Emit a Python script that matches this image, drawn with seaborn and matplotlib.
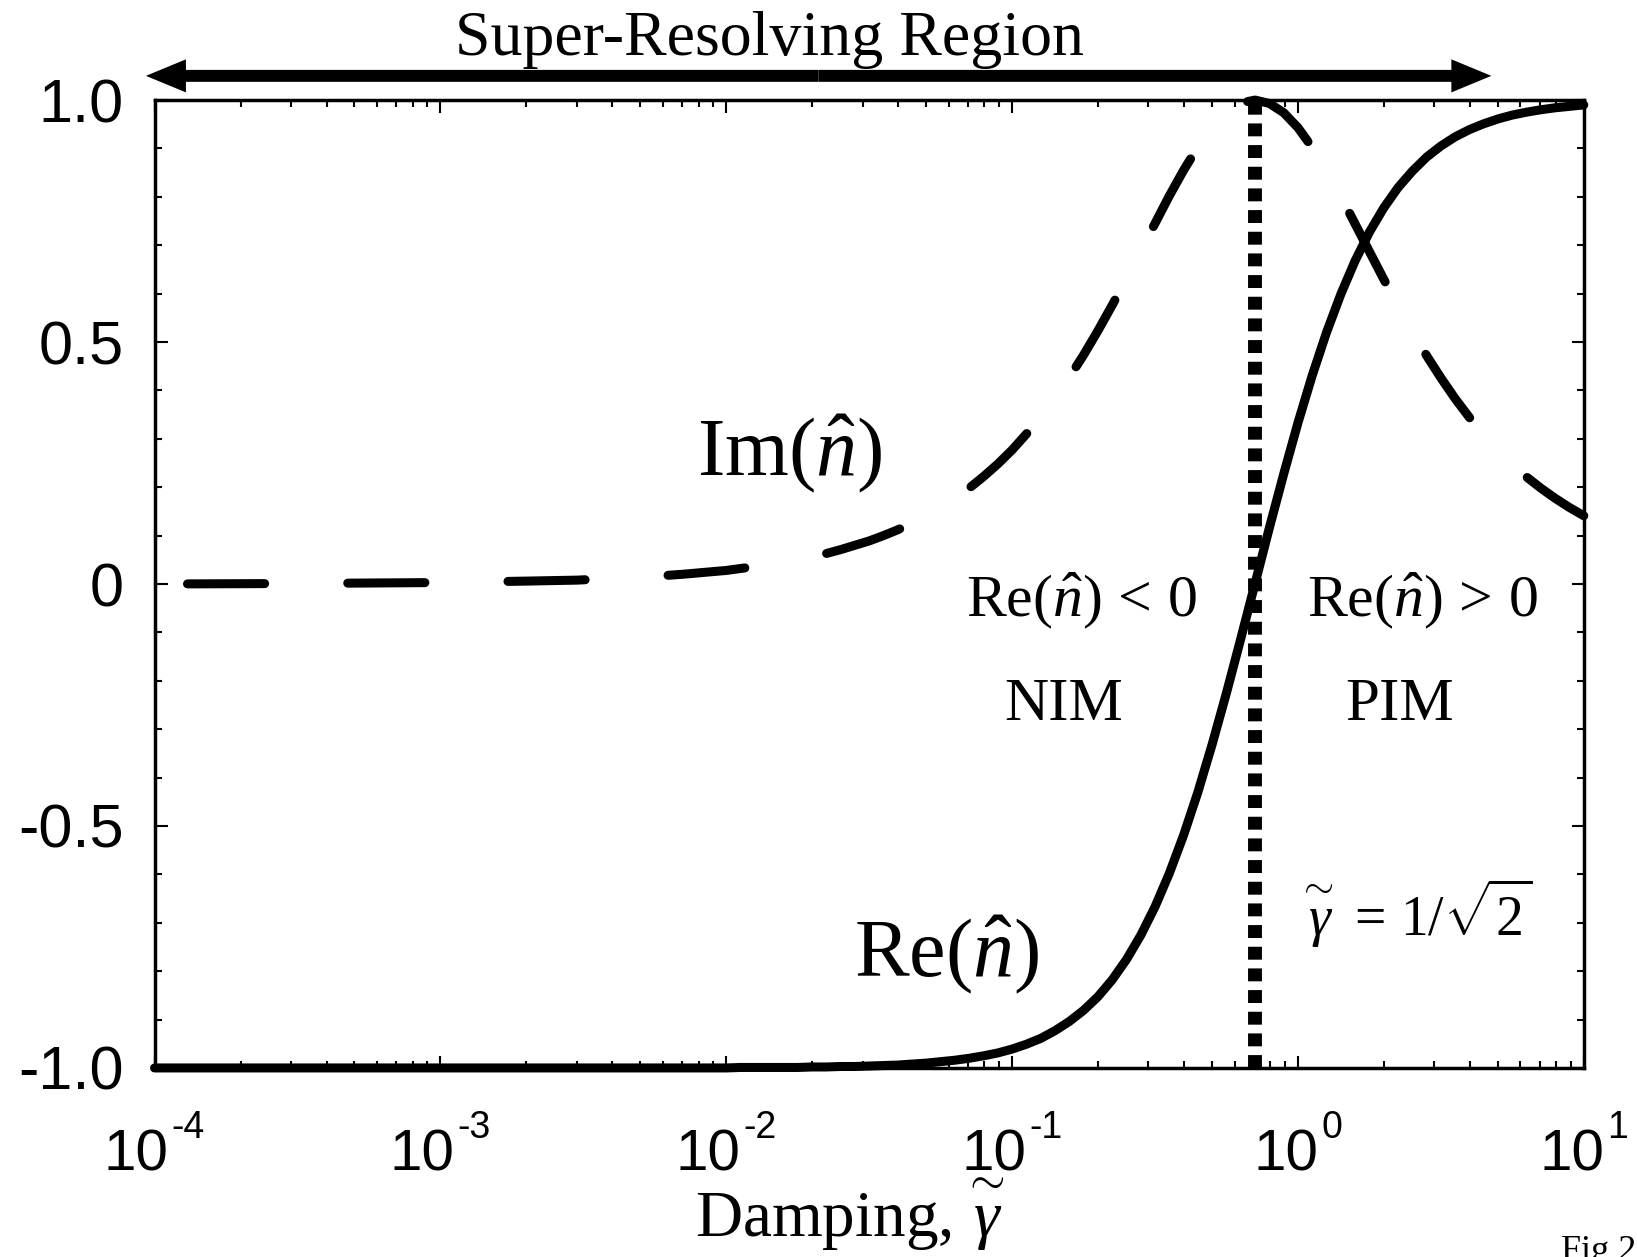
import numpy as np
import pandas as pd
import matplotlib
matplotlib.use("Agg")
import matplotlib.pyplot as plt
import seaborn as sns
from matplotlib.patches import ArrowStyle
from matplotlib.transforms import blended_transform_factory, offset_copy
from matplotlib.ticker import (FixedLocator, FixedFormatter, LogLocator,
                               MultipleLocator, NullFormatter)

# Normalised refractive index n^ versus damping
damping = [1e-4, 3e-4, 1e-3, 2e-3, 3e-3, 5e-3, 7e-3,
           0.01, 0.01122, 0.01259, 0.01413, 0.01585, 0.01778, 0.01995, 0.02239,
           0.02512, 0.02818, 0.03162, 0.03548, 0.03981, 0.04467, 0.05012,
           0.05623, 0.0631, 0.07079, 0.07943, 0.08913, 0.1, 0.1122, 0.1259,
           0.1413, 0.1585, 0.1778, 0.1995, 0.2239, 0.2512, 0.2818, 0.3162,
           0.3548, 0.3981, 0.4467, 0.5012, 0.5623, 0.631, 0.7079, 0.7943,
           0.8913, 1.0, 1.122, 1.259, 1.413, 1.585, 1.778, 1.995, 2.239, 2.512,
           2.818, 3.162, 3.548, 3.981, 4.467, 5.012, 5.623, 6.31, 7.079, 7.943,
           8.913, 10.0]
re_n = [-1.000, -1.000, -1.000, -1.000, -1.000, -1.000, -1.000,
        -1.000, -0.999, -0.999, -0.999, -0.999, -0.999, -0.998, -0.998,
        -0.997, -0.997, -0.996, -0.995, -0.994, -0.992, -0.990,
        -0.987, -0.984, -0.980, -0.975, -0.969, -0.961, -0.951, -0.939,
        -0.923, -0.904, -0.881, -0.853, -0.818, -0.776, -0.726, -0.667,
        -0.598, -0.519, -0.430, -0.331, -0.225, -0.113, 0.001, 0.116,
        0.227, 0.333, 0.431, 0.520, 0.599, 0.668, 0.727, 0.777, 0.819, 0.853,
        0.882, 0.905, 0.924, 0.939, 0.951, 0.961, 0.969, 0.975, 0.980, 0.984,
        0.987, 0.990]
im_n = [0.000, 0.001, 0.003, 0.006, 0.008, 0.014, 0.020,
        0.028, 0.032, 0.036, 0.040, 0.045, 0.050, 0.056, 0.063,
        0.071, 0.080, 0.089, 0.100, 0.112, 0.126, 0.141,
        0.158, 0.177, 0.198, 0.222, 0.248, 0.277, 0.310, 0.345,
        0.384, 0.427, 0.473, 0.523, 0.576, 0.631, 0.688, 0.745,
        0.802, 0.855, 0.903, 0.944, 0.974, 0.994, 1.000, 0.993,
        0.974, 0.943, 0.902, 0.854, 0.801, 0.744, 0.687, 0.630, 0.574, 0.522,
        0.472, 0.426, 0.383, 0.344, 0.309, 0.277, 0.248, 0.221, 0.198, 0.177,
        0.158, 0.141]
gamma_c = 0.7071  # 1/sqrt(2)

x_ticks = [1e-4, 1e-3, 1e-2, 1e-1, 1e0, 1e1]
x_tick_exponents = ["-4", "-3", "-2", "-1", "0", "1"]
y_ticks = [-1.0, -0.5, 0.0, 0.5, 1.0]
y_ticklabels = ["-1.0", "-0.5", "0", "0.5", "1.0"]

df = pd.DataFrame({"damping": damping, "Re": re_n, "Im": im_n})

sns.set_theme(style="ticks")
plt.rcParams.update({
    "font.family": ["Liberation Serif", "DejaVu Serif"],
    "mathtext.fontset": "custom",
    "mathtext.rm": "Liberation Serif",
    "mathtext.it": "Liberation Serif:italic",
    "mathtext.bf": "Liberation Serif:bold",
    "mathtext.sf": "Liberation Sans",
    "axes.unicode_minus": False,
    "axes.edgecolor": "black",
    "text.color": "black",
    "xtick.color": "black",
    "ytick.color": "black",
    "axes.labelcolor": "black",
})

DPI = 100
fig = plt.figure(figsize=(16.37, 12.57), dpi=DPI)
fig.patch.set_facecolor("white")
ax = fig.add_axes([0.0944, 0.1504, 0.8731, 0.7700])
ax.set_xscale("log")

# Im(n^): long dashes
sns.lineplot(data=df, x="damping", y="Im", ax=ax, color="black", lw=6.5,
             linestyle=(14.1, (8.55, 9.2)), dash_capstyle="round",
             solid_joinstyle="round", clip_on=False)
# Re(n^): solid
sns.lineplot(data=df, x="damping", y="Re", ax=ax, color="black", lw=6.5,
             solid_capstyle="round", solid_joinstyle="round", clip_on=False)
# critical damping boundary
ax.axvline(gamma_c, color="black", lw=10, linestyle=(0, (0.93, 0.63)),
           dash_capstyle="butt")

ax.set_xlim(1e-4, 1e1)
ax.set_ylim(-1.0, 1.0)
ax.set_xlabel("")
ax.set_ylabel("")

ax.xaxis.set_major_locator(FixedLocator(x_ticks))
ax.xaxis.set_major_formatter(NullFormatter())
ax.xaxis.set_minor_locator(LogLocator(base=10, subs=range(2, 10), numticks=20))
ax.xaxis.set_minor_formatter(NullFormatter())
ax.yaxis.set_major_locator(FixedLocator(y_ticks))
ax.yaxis.set_major_formatter(FixedFormatter(y_ticklabels))
ax.yaxis.set_minor_locator(MultipleLocator(0.1))

ax.tick_params(which="both", direction="in", top=True, right=True,
               color="black", width=1.5)
ax.tick_params(which="major", length=9)
ax.tick_params(which="minor", length=5)
ax.tick_params(axis="y", which="major", labelsize=44, pad=22,
               labelfontfamily="Liberation Sans", labelcolor="black")
for s in ax.spines.values():
    s.set_linewidth(2.5)
    s.set_color("black")

# Decade labels "10" with a raised exponent, centred on each major tick
renderer = fig.canvas.get_renderer()
xt_base = blended_transform_factory(ax.transData, ax.transAxes)
base_drop = -103      # baseline of "10" below the bottom spine (pixels)
sup_rise = 33         # exponent baseline above the "10" baseline (pixels)
sup_gap = 3
for xt, ex in zip(x_ticks, x_tick_exponents):
    t10 = ax.text(xt, 0, "10", fontsize=42, family="Liberation Sans",
                  ha="left", va="baseline", transform=xt_base)
    tex = ax.text(xt, 0, ex, fontsize=27, family="Liberation Sans",
                  ha="left", va="baseline", transform=xt_base)
    w10 = t10.get_window_extent(renderer).width
    wex = tex.get_window_extent(renderer).width
    left = -(w10 + sup_gap + wex) / 2.0
    t10.set_transform(offset_copy(xt_base, fig=fig, x=left, y=base_drop,
                                  units="dots"))
    tex.set_transform(offset_copy(xt_base, fig=fig, x=left + w10 + sup_gap,
                                  y=base_drop + sup_rise, units="dots"))

# Super-resolving region arrow (two halves from the centre)
arrow_y = 1.05
x_mid = 0.021
for x_end in (9.33e-5, 4.75):
    ax.annotate("", xy=(x_end, arrow_y), xytext=(x_mid, arrow_y),
                xycoords="data", annotation_clip=False,
                arrowprops=dict(arrowstyle=ArrowStyle("simple", head_length=28.8,
                                                      head_width=23.8,
                                                      tail_width=8.6),
                                mutation_scale=1, lw=0, fc="black",
                                ec="black", shrinkA=0, shrinkB=0))

fig.text(0.470, 0.968, "Super-Resolving Region", ha="center", va="center",
         fontsize=46)

ax.text(0.00792, 0.225, r"$\mathrm{Im}(\hat{n})$", fontsize=59, ha="left",
        va="baseline")
ax.text(0.028, -0.810, r"$\mathrm{Re}(\hat{n})$", fontsize=59, ha="left",
        va="baseline")
ax.text(0.0689, -0.066, r"$\mathrm{Re}(\hat{n})\,<\,0$", fontsize=43,
        ha="left", va="baseline")
ax.text(1.077, -0.066, r"$\mathrm{Re}(\hat{n})\,>\,0$", fontsize=43,
        ha="left", va="baseline")
ax.text(0.094, -0.282, "NIM", fontsize=44, ha="left", va="baseline")
ax.text(1.458, -0.282, "PIM", fontsize=44, ha="left", va="baseline")
ax.text(1.0, -0.728, r"$\overset{\sim}{\gamma}\,=\,1/\sqrt{2}$",
        fontsize=40, ha="left", va="baseline")

fig.text(0.519, 0.0159, r"Damping, $\!\overset{\sim}{\gamma}$", ha="center",
         va="baseline", fontsize=47)
fig.text(0.9535, 1 - 1235 / 1257, "Fig 2", ha="left", va="top", fontsize=26)

fig.savefig("out.png", dpi=DPI, facecolor="white")
